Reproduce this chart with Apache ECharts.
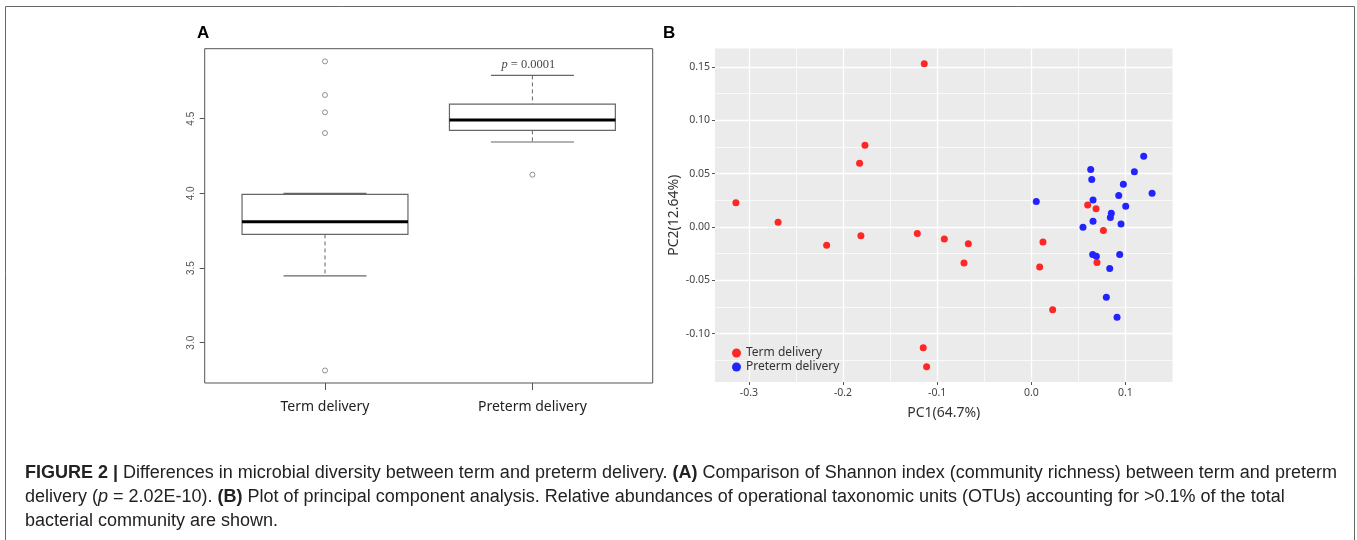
<!DOCTYPE html>
<html>
<head>
<meta charset="utf-8">
<script src="https://cdn.jsdelivr.net/npm/echarts@6/dist/echarts.min.js"></script>
<style>
html,body{margin:0;padding:0;background:#fff;}
#chart{width:1357px;height:540px;}
</style>
</head>
<body>
<div id="chart"></div>
<script>
// ---- Panel A: Shannon index box plot ----
const categories = ['Term delivery', 'Preterm delivery'];
const boxLow    = [3.448, 4.344];
const boxQ1     = [3.725, 4.422];
const boxMedian = [3.810, 4.491];
const boxQ3     = [3.993, 4.598];
const boxHigh   = [4.000, 4.790];
const termOutliers    = [4.884, 4.659, 4.543, 4.404, 2.814];
const pretermOutliers = [4.125];
const shannonTicks = [3.0, 3.5, 4.0, 4.5];

// ---- Panel B: PCA ----
const termPC1 = [-0.3138, -0.2690, -0.1137, -0.1767, -0.1824, -0.1810, -0.2174, -0.1211, -0.0924, -0.0669,
                 -0.0715, -0.1148, -0.1112, 0.0124, 0.0089, 0.0227, 0.0599, 0.0688, 0.0766, 0.0698];
const termPC2 = [0.0225, 0.0044, 0.1530, 0.0766, 0.0597, -0.0082, -0.0172, -0.0063, -0.0113, -0.0157,
                 -0.0338, -0.1132, -0.1310, -0.0141, -0.0375, -0.0776, 0.0206, 0.0169, -0.0035, -0.0335];
const pretermPC1 = [0.0053, 0.0631, 0.0642, 0.0656, 0.0656, 0.0549, 0.0850, 0.0840, 0.0953, 0.1003, 0.0929,
                    0.0978, 0.1095, 0.1194, 0.1283, 0.0652, 0.0691, 0.0939, 0.0833, 0.0797, 0.0911];
const pretermPC2 = [0.0237, 0.0538, 0.0444, 0.0253, 0.0053, -0.0003, 0.0128, 0.0088, 0.0028, 0.0194, 0.0294,
                    0.0400, 0.0516, 0.0663, 0.0316, -0.0260, -0.0275, -0.0260, -0.0391, -0.0660, -0.0847];
const pc1Ticks = [-0.3, -0.2, -0.1, 0.0, 0.1];
const pc1Minor = [-0.25, -0.15, -0.05, 0.05];
const pc2Ticks = [-0.10, -0.05, 0.00, 0.05, 0.10, 0.15];
const pc2Minor = [-0.125, -0.075, -0.025, 0.025, 0.075, 0.125];

const SANS = '"Noto Sans", "Open Sans", sans-serif';
const CAP = '"Liberation Sans", Arial, sans-serif';

const boxData = categories.map((c, i) => [i + 1, boxLow[i], boxQ1[i], boxMedian[i], boxQ3[i], boxHigh[i]]);
const outlierData = termOutliers.map(v => [1, v]).concat(pretermOutliers.map(v => [2, v]));

function renderBox(params, api) {
  const x = api.value(0);
  const lo = api.value(1), q1 = api.value(2), med = api.value(3), q3 = api.value(4), hi = api.value(5);
  const hw = 0.4, cw = 0.2;
  const tl = api.coord([x - hw, q3]);
  const br = api.coord([x + hw, q1]);
  const mL = api.coord([x - hw, med]), mR = api.coord([x + hw, med]);
  const pHi = api.coord([x, hi]), pQ3 = api.coord([x, q3]);
  const pQ1 = api.coord([x, q1]), pLo = api.coord([x, lo]);
  const hL = api.coord([x - cw, hi]), hR = api.coord([x + cw, hi]);
  const lL = api.coord([x - cw, lo]), lR = api.coord([x + cw, lo]);
  const grey = '#666';
  return {
    type: 'group',
    children: [
      {type: 'line', shape: {x1: pHi[0], y1: pHi[1], x2: pQ3[0], y2: pQ3[1]}, style: {stroke: grey, lineWidth: 1, lineDash: [4, 3]}},
      {type: 'line', shape: {x1: pQ1[0], y1: pQ1[1], x2: pLo[0], y2: pLo[1]}, style: {stroke: grey, lineWidth: 1, lineDash: [4, 3]}},
      {type: 'line', shape: {x1: hL[0], y1: hL[1], x2: hR[0], y2: hR[1]}, style: {stroke: grey, lineWidth: 1.2}},
      {type: 'line', shape: {x1: lL[0], y1: lL[1], x2: lR[0], y2: lR[1]}, style: {stroke: grey, lineWidth: 1.2}},
      {type: 'rect', shape: {x: tl[0], y: tl[1], width: br[0] - tl[0], height: br[1] - tl[1]}, style: {fill: '#fff', stroke: grey, lineWidth: 1.2}},
      {type: 'line', shape: {x1: mL[0], y1: mL[1], x2: mR[0], y2: mR[1]}, style: {stroke: '#000', lineWidth: 3}}
    ]
  };
}

const chart = echarts.init(document.getElementById('chart'), null, {renderer: 'canvas'});

const option = {
  backgroundColor: '#fff',
  animation: false,
  grid: [
    {left: 204.7, top: 48.7, width: 448, height: 334.3, show: true, borderColor: '#555', borderWidth: 1, backgroundColor: 'transparent'},
    {left: 715, top: 48.5, width: 457.5, height: 333.5, show: true, borderWidth: 0, backgroundColor: '#EBEBEB'}
  ],
  xAxis: [
    {
      type: 'value', gridIndex: 0, min: 0.42, max: 2.58,
      axisLine: {show: false, onZero: false},
      axisTick: {show: true, inside: false, length: 7, lineStyle: {color: '#555'}, customValues: [1, 2]},
      axisLabel: {customValues: [1, 2], formatter: v => categories[Math.round(v) - 1], margin: 17,
                  fontFamily: SANS, fontSize: 14, color: '#222'},
      splitLine: {show: false}
    },
    {
      type: 'value', gridIndex: 1, min: -0.336, max: 0.150,
      name: 'PC1(64.7%)', nameLocation: 'middle', nameGap: 24,
      nameTextStyle: {fontFamily: SANS, fontSize: 14, color: '#333'},
      axisLine: {show: false, onZero: false},
      axisTick: {show: true, length: 3, lineStyle: {color: '#555'}, customValues: pc1Ticks},
      axisLabel: {customValues: pc1Ticks, margin: 6, fontFamily: SANS, fontSize: 10.5, color: '#444',
                  formatter: v => (Math.abs(v) < 1e-9 ? '0.0' : v.toFixed(1))},
      splitLine: {show: true, lineStyle: {color: '#fff', width: 1.3}}
    },
    {
      type: 'value', gridIndex: 1, min: -0.336, max: 0.150,
      axisLine: {show: false, onZero: false},
      axisTick: {show: false, customValues: pc1Minor},
      axisLabel: {show: false},
      splitLine: {show: true, lineStyle: {color: '#fff', width: 0.7}}
    }
  ],
  yAxis: [
    {
      type: 'value', gridIndex: 0, min: 2.73, max: 4.969,
      axisLine: {show: false, onZero: false},
      axisTick: {show: true, length: 5, lineStyle: {color: '#555'}, customValues: shannonTicks},
      axisLabel: {customValues: shannonTicks, rotate: 90, margin: 8, fontFamily: CAP, fontSize: 10, color: '#555',
                  formatter: v => v.toFixed(1)},
      splitLine: {show: false}
    },
    {
      type: 'value', gridIndex: 1, min: -0.1454, max: 0.1672,
      name: 'PC2(12.64%)', nameLocation: 'middle', nameGap: 34, nameRotate: 90,
      nameTextStyle: {fontFamily: SANS, fontSize: 14, color: '#333'},
      axisLine: {show: false, onZero: false},
      axisTick: {show: true, length: 3, lineStyle: {color: '#555'}, customValues: pc2Ticks},
      axisLabel: {customValues: pc2Ticks, margin: 5, fontFamily: SANS, fontSize: 10.5, color: '#444',
                  formatter: v => v.toFixed(2)},
      splitLine: {show: true, lineStyle: {color: '#fff', width: 1.3}}
    },
    {
      type: 'value', gridIndex: 1, min: -0.1454, max: 0.1672,
      axisLine: {show: false, onZero: false},
      axisTick: {show: false, customValues: pc2Minor},
      axisLabel: {show: false},
      splitLine: {show: true, lineStyle: {color: '#fff', width: 0.7}}
    }
  ],
  legend: {
    data: ['Term delivery', 'Preterm delivery'],
    orient: 'vertical', left: 727, top: 342, itemWidth: 9, itemHeight: 9, itemGap: 2,
    icon: 'circle',
    textStyle: {fontFamily: SANS, fontSize: 12, color: '#333'}
  },
  series: [
    {
      type: 'custom', name: 'Shannon', xAxisIndex: 0, yAxisIndex: 0,
      renderItem: renderBox, data: boxData, encode: {x: 0, y: [1, 2, 3, 4, 5]}, z: 2
    },
    {
      type: 'scatter', name: 'outliers', xAxisIndex: 0, yAxisIndex: 0,
      symbol: 'circle', symbolSize: 5, data: outlierData,
      itemStyle: {color: '#fff', borderColor: '#555', borderWidth: 0.8}, z: 3
    },
    {
      type: 'scatter', name: 'pvalue', xAxisIndex: 0, yAxisIndex: 0, symbolSize: 0,
      data: [[2, 4.862]], silent: true,
      label: {show: true, position: 'inside', offset: [-4, 0], formatter: '{i|p} = 0.0001',
              fontFamily: '"Liberation Serif", serif', fontSize: 12.5, color: '#111',
              rich: {i: {fontStyle: 'italic', fontFamily: '"Liberation Serif", serif', fontSize: 12.5, color: '#111'}}}
    },
    {
      type: 'scatter', name: 'Term delivery', xAxisIndex: 1, yAxisIndex: 1,
      symbolSize: 7, data: termPC1.map((v, i) => [v, termPC2[i]]),
      itemStyle: {color: '#FF2626', opacity: 1}, z: 3
    },
    {
      type: 'scatter', name: 'Preterm delivery', xAxisIndex: 1, yAxisIndex: 1,
      symbolSize: 7, data: pretermPC1.map((v, i) => [v, pretermPC2[i]]),
      itemStyle: {color: '#2323FF', opacity: 1}, z: 3
    }
  ],
  graphic: [
    {type: 'rect', shape: {x: 5.5, y: 6.5, width: 1349, height: 600}, style: {fill: 'none', stroke: '#666', lineWidth: 1}, silent: true, z: -1},
    {type: 'text', left: 197, top: 25, style: {text: 'A', font: 'bold 17px "Liberation Sans", Arial, sans-serif', fill: '#000'}},
    {type: 'text', left: 663, top: 25, style: {text: 'B', font: 'bold 17px "Liberation Sans", Arial, sans-serif', fill: '#000'}},
    {
      type: 'text', left: 25, top: 461,
      style: {
        text: '{b|FIGURE 2 |} Differences in microbial diversity between term and preterm delivery. {b|(A)} Comparison of Shannon index (community richness) between term and preterm\n' +
              'delivery ({i|p} = 2.02E-10). {b|(B)} Plot of principal component analysis. Relative abundances of operational taxonomic units (OTUs) accounting for >0.1% of the total\n' +
              'bacterial community are shown.',
        fontFamily: CAP, fontSize: 18, lineHeight: 24, fill: '#222',
        rich: {
          b: {fontFamily: CAP, fontSize: 18, fontWeight: 'bold', lineHeight: 24, fill: '#222'},
          i: {fontFamily: CAP, fontSize: 18, fontStyle: 'italic', lineHeight: 24, fill: '#222'}
        }
      }
    }
  ]
};
chart.setOption(option);
</script>
</body>
</html>
